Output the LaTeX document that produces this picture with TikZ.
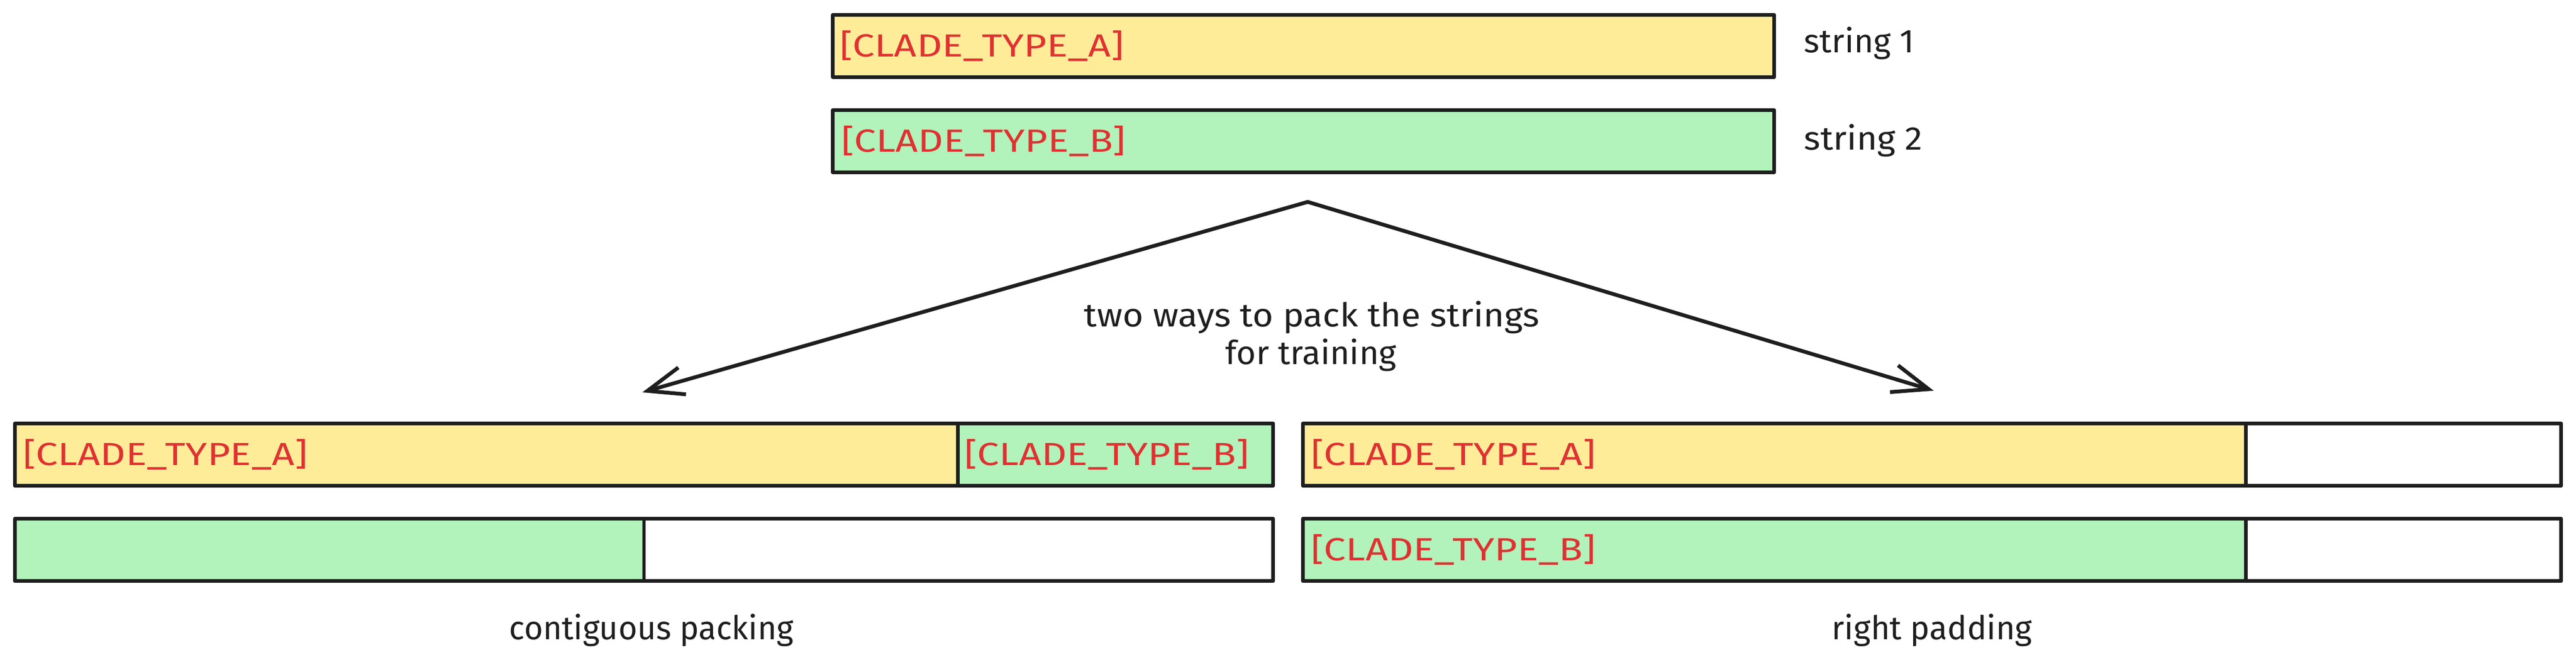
\documentclass[tikz,border=0pt]{standalone}
\usepackage{fontspec}
\setmainfont{Fira Sans}
\usetikzlibrary{arrows.meta}
\definecolor{stroke}{HTML}{1E1E1E}
\definecolor{fillA}{HTML}{FFEC99}
\definecolor{fillB}{HTML}{B2F2BB}
\definecolor{tagred}{HTML}{E03131}
\newcommand\fitw[2]{\resizebox{#1}{\height}{#2}}
\begin{document}
\begin{tikzpicture}[x=1pt,y=-1pt,
  bar/.style={draw=stroke, line width=2.2pt, line join=round, inner sep=0pt, outer sep=0pt,
              anchor=north west, minimum height=38pt},
  tag/.style={text=tagred, font=\fontsize{19.5}{19.5}\selectfont, anchor=west, inner sep=0pt},
  lbl/.style={text=stroke, font=\fontsize{20}{24}\selectfont, inner sep=0pt},
  flow/.style={draw=stroke, line width=2.3pt, line cap=round, line join=round,
               -{Straight Barb[length=22pt,width=17pt]}}]
\useasboundingbox (0,0) rectangle (1568,406.3);

% input strings
\node[bar, fill=fillA, minimum width=573pt] (s1) at (507,9) {};
\node[bar, fill=fillB, minimum width=573pt] (s2) at (507,67) {};
\node[tag] (s1t) at ([xshift=4pt]s1.west) {\fitw{173pt}{[CLADE\_TYPE\_A]}};
\node[tag] (s2t) at ([xshift=5pt]s2.west) {\fitw{173pt}{[CLADE\_TYPE\_B]}};
\node[lbl, anchor=base west] (s1l) at (1098,32) {\fitw{67pt}{string 1}};
\node[lbl, anchor=base west] (s2l) at (1098,91.4) {\fitw{72pt}{string 2}};

% arrows
\coordinate (fork) at (796,123);
\coordinate (leftend) at (391,239);
\coordinate (rightend) at (1177,238);
\draw[flow] (fork) -- (leftend);
\draw[flow] (fork) -- (rightend);
\node[lbl, anchor=base] (cap1) at (798.5,199) {\fitw{277pt}{two ways to pack the strings}};
\node[lbl, anchor=base] (cap2) at (798,222) {\fitw{104pt}{for training}};

% contiguous packing
\node[bar, fill=fillA, minimum width=574pt] (ca) at (9,258) {};
\node[bar, fill=fillB, minimum width=192pt] (cb) at (583,258) {};
\node[bar, fill=fillB, minimum width=383pt] (cc) at (9,316) {};
\node[bar, fill=white, minimum width=383pt] (cd) at (392,316) {};
\node[tag] (cat) at ([xshift=5pt]ca.west) {\fitw{173pt}{[CLADE\_TYPE\_A]}};
\node[tag] (cbt) at ([xshift=4pt]cb.west) {\fitw{173pt}{[CLADE\_TYPE\_B]}};
\node[lbl, anchor=base] (cl) at (396.5,389.5) {\fitw{173pt}{contiguous packing}};

% right padding
\node[bar, fill=fillA, minimum width=574pt] (ra) at (793,258) {};
\node[bar, fill=white, minimum width=192pt] (rb) at (1367,258) {};
\node[bar, fill=fillB, minimum width=574pt] (rc) at (793,316) {};
\node[bar, fill=white, minimum width=192pt] (rd) at (1367,316) {};
\node[tag] (rat) at ([xshift=5pt]ra.west) {\fitw{173pt}{[CLADE\_TYPE\_A]}};
\node[tag] (rct) at ([xshift=5pt]rc.west) {\fitw{173pt}{[CLADE\_TYPE\_B]}};
\node[lbl, anchor=base] (rl) at (1176,389.5) {\fitw{122pt}{right padding}};
\end{tikzpicture}
\end{document}
